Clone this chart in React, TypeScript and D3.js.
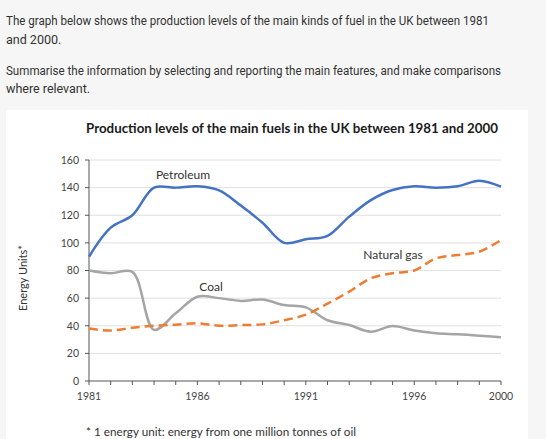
import React from "react";
import * as d3 from "d3";

const years = [1981,1982,1983,1984,1985,1986,1987,1988,1989,1990,1991,1992,1993,1994,1995,1996,1997,1998,1999,2000];
const petroleum = [90,111,120,140,140,141,138,127,114.6,100,102.6,105,119,131,138.3,141,140,141,145,140.7];
const coal = [80,78,79,37,49,61,60,58,59,55,53.3,44,40.5,35.7,39.8,36.5,34.5,33.8,32.8,31.6];
const naturalGas = [38,36.5,38.6,40,40.8,41.8,40,40.5,41,44,48,56,64.7,74.4,78,80,88.8,91.2,93.6,102];
const yTicks = [0,20,40,60,80,100,120,140,160];
const xTickLabels = [1981,1986,1991,1996,2000];

const W = 546, H = 439;
const left = 89, right = 501, top = 160, bottom = 381;

export default function App() {
  const x = d3.scaleLinear().domain([1981, 2000]).range([left, right]);
  const y = d3.scaleLinear().domain([0, 160]).range([bottom, top]);
  const line = (vals: number[]) =>
    d3.line<number>().x((_, i) => x(years[i])).y((d) => y(d)).curve(d3.curveCatmullRom.alpha(0.5))(vals) || "";
  const chartFont = "Lato, 'Open Sans', sans-serif";
  return (
    <svg width={W} height={H} style={{ position: "absolute", left: 0, top: 0 }} xmlns="http://www.w3.org/2000/svg">
      <rect x={0} y={0} width={W} height={H} fill="#f6f6f6" />
      <g fontFamily="Roboto, sans-serif" fontSize={12.5} fill="#333">
        <text x={6} y={25} textLength={483} lengthAdjust="spacingAndGlyphs">The graph below shows the production levels of the main kinds of fuel in the UK between 1981</text>
        <text x={6} y={44}>and 2000.</text>
        <text x={6} y={75} textLength={495} lengthAdjust="spacingAndGlyphs">Summarise the information by selecting and reporting the main features, and make comparisons</text>
        <text x={6} y={93}>where relevant.</text>
      </g>
      <rect x={6} y={110} width={522} height={H - 110} fill="#ffffff" />
      <text x={292} y={133} textAnchor="middle" fontFamily={chartFont} fontWeight="bold" fontSize={13.5} fill="#1a1a1a" textLength={412} lengthAdjust="spacingAndGlyphs">Production levels of the main fuels in the UK between 1981 and 2000</text>
      {yTicks.filter((t) => t > 0).map((t) => (
        <line key={"g" + t} x1={left} x2={right} y1={y(t)} y2={y(t)} stroke="#e0e0e0" strokeWidth={1} />
      ))}
      <line x1={left} x2={left} y1={top} y2={bottom} stroke="#555" strokeWidth={1} />
      <line x1={left} x2={right} y1={bottom} y2={bottom} stroke="#555" strokeWidth={1} />
      {yTicks.map((t) => (
        <g key={"y" + t}>
          <line x1={left - 4} x2={left} y1={y(t)} y2={y(t)} stroke="#555" />
          <text x={79} y={y(t) + 3.8} textAnchor="end" fontFamily={chartFont} fontSize={10.5} fill="#444">{t}</text>
        </g>
      ))}
      {years.map((yr) => (
        <line key={"xt" + yr} x1={x(yr)} x2={x(yr)} y1={bottom} y2={bottom + 4} stroke="#555" />
      ))}
      {xTickLabels.map((yr) => (
        <text key={"xl" + yr} x={x(yr)} y={400} textAnchor="middle" fontFamily={chartFont} fontSize={10.5} fill="#444">{yr}</text>
      ))}
      <text transform="translate(27,278) rotate(-90)" textAnchor="middle" fontFamily={chartFont} fontSize={11} fill="#333">Energy Units*</text>
      <path d={line(coal)} fill="none" stroke="#a5a5a5" strokeWidth={2.5} />
      <path d={line(naturalGas)} fill="none" stroke="#ed7d31" strokeWidth={2.5} strokeDasharray="9,5" />
      <path d={line(petroleum)} fill="none" stroke="#4472c4" strokeWidth={2.5} />
      <text x={183} y={179} textAnchor="middle" fontFamily={chartFont} fontSize={12} fill="#333">Petroleum</text>
      <text x={211} y={291} textAnchor="middle" fontFamily={chartFont} fontSize={12} fill="#333">Coal</text>
      <text x={393} y={259} textAnchor="middle" fontFamily={chartFont} fontSize={12} fill="#333">Natural gas</text>
      <text x={86} y={436} fontFamily={chartFont} fontSize={11.5} fill="#333" textLength={270} lengthAdjust="spacingAndGlyphs">* 1 energy  unit: energy from one million tonnes of oil</text>
    </svg>
  );
}
